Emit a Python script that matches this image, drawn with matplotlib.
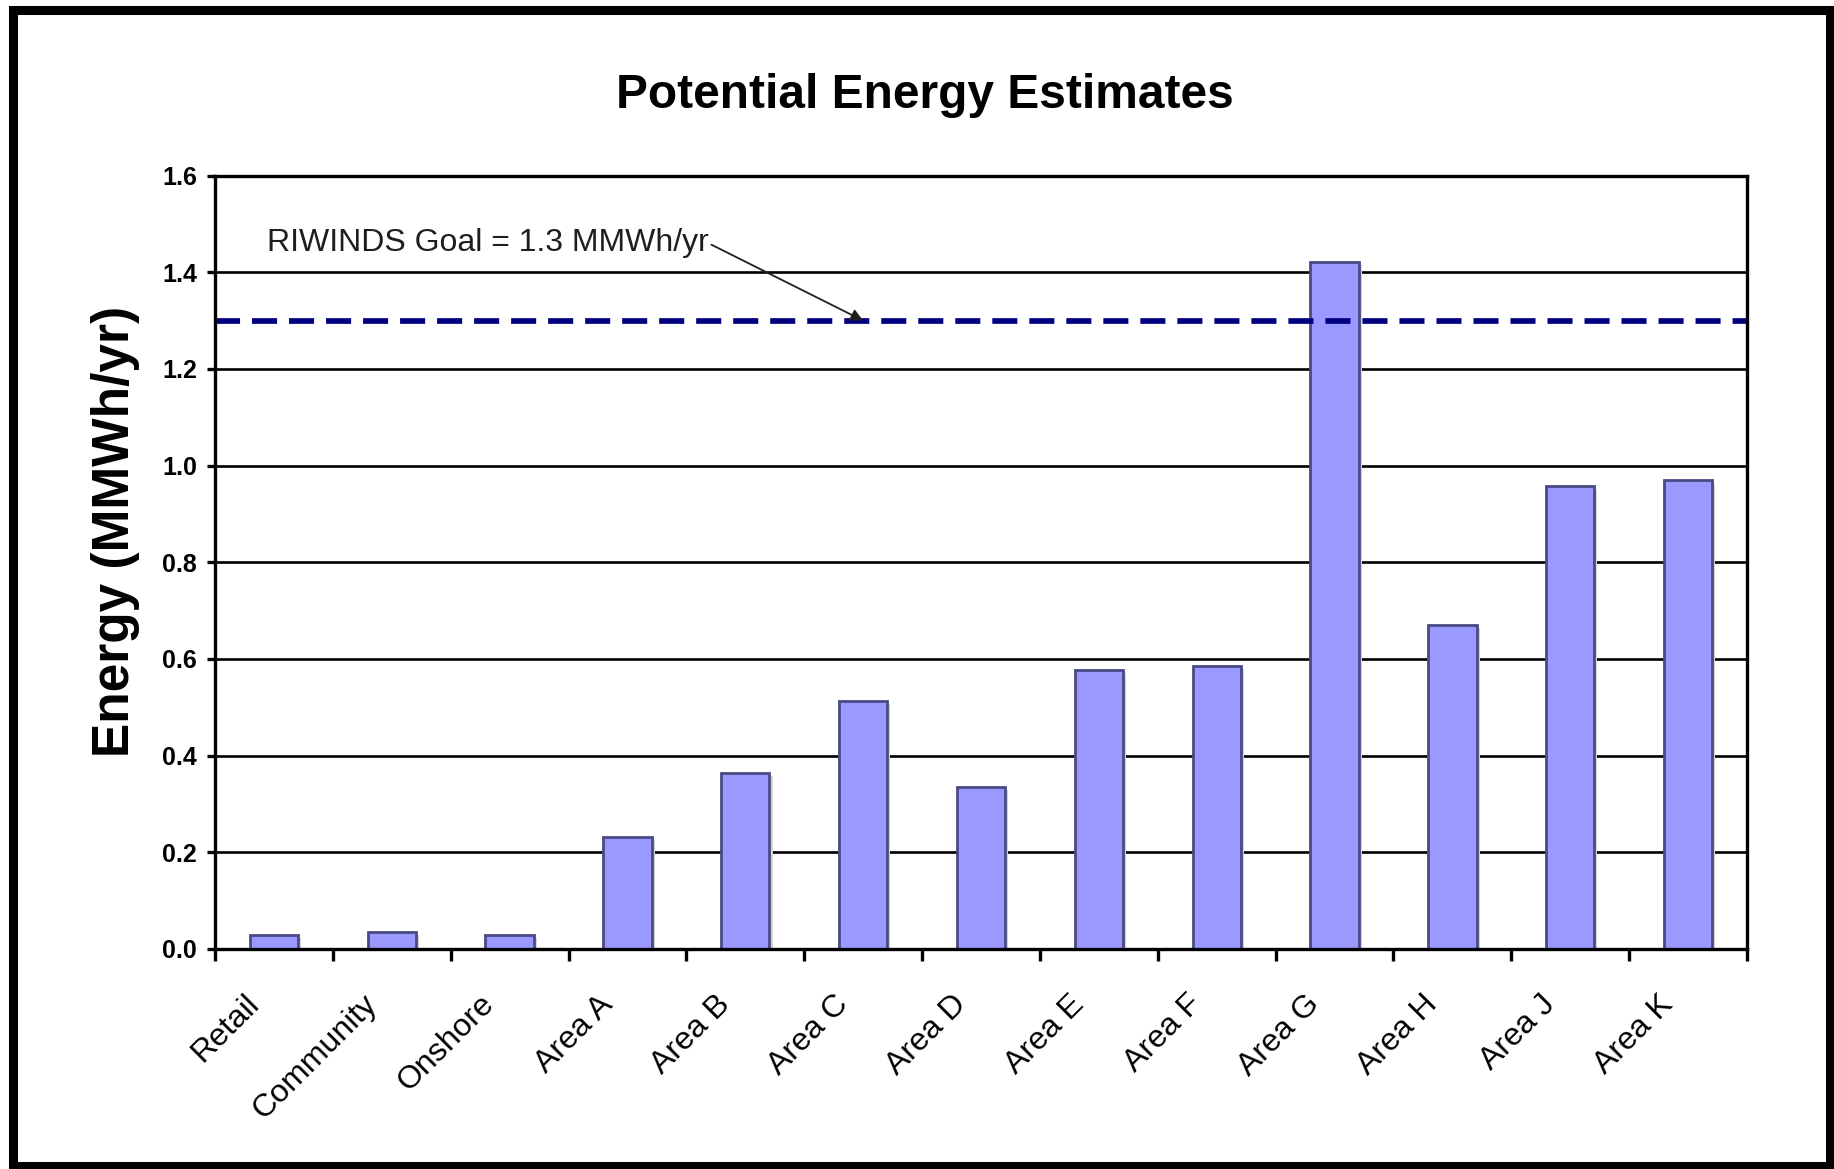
import numpy as np
import matplotlib
matplotlib.use("Agg")
import matplotlib.pyplot as plt
import matplotlib.patheffects as pe
from matplotlib.patches import Rectangle
from matplotlib.transforms import ScaledTranslation

# Data
categories = ["Retail", "Community", "Onshore", "Area A", "Area B", "Area C",
              "Area D", "Area E", "Area F", "Area G", "Area H", "Area J", "Area K"]
energy = [0.029, 0.035, 0.029, 0.232, 0.364, 0.513,
          0.335, 0.577, 0.585, 1.421, 0.670, 0.958, 0.970]
goal = 1.3
goal_arrow_category = "Area C"
y_ticks = [0.0, 0.2, 0.4, 0.6, 0.8, 1.0, 1.2, 1.4, 1.6]

plt.rcParams["font.family"] = ["Liberation Sans", "DejaVu Sans"]

W, H = 1834, 1169
fig = plt.figure(figsize=(W / 100, H / 100), dpi=100)
fig.patch.set_facecolor("white")

ax = fig.add_axes([215 / W, (H - 949) / H, (1747 - 215) / W, (949 - 175.6) / H])

x = np.arange(len(categories))

# Horizontal gridlines behind the bars
for yv in y_ticks:
    ax.axhline(yv, color="black", lw=1.9, zorder=1)

bars = ax.bar(x, energy, width=0.41, color="#9999ff", edgecolor="#4a4a84",
              linewidth=2.0, zorder=2)
for b in bars:
    b.set_path_effects([pe.SimplePatchShadow(offset=(2.2, -2.2), shadow_rgbFace="#d4d4d4", alpha=1.0),
                        pe.Normal()])

# Goal line
ax.axhline(goal, color="#000080", lw=4.1, dashes=(4.4, 2.1), zorder=3)

arrow_x = categories.index(goal_arrow_category)
ax.annotate(f"RIWINDS Goal = {goal:.1f} MMWh/yr",
            xy=(arrow_x, goal), xytext=(-0.06, 1.46),
            textcoords="data", ha="left", va="center",
            fontsize=23, color="#1e1e1e",
            arrowprops=dict(arrowstyle="-|>", color="#1e1e1e", lw=1.3,
                            mutation_scale=18, shrinkA=0, shrinkB=0,
                            relpos=(1.0, 0.5)),
            zorder=4)

ax.set_xlim(-0.5, len(categories) - 0.5)
ax.set_ylim(0, 1.6)

# Ticks: boundaries get tick marks, centres get labels
ax.set_xticks(np.arange(len(categories) + 1) - 0.5)
ax.set_xticklabels([])
ax.set_xticks(x, minor=True)
ax.set_xticklabels(categories, minor=True, rotation=45, ha="right", va="top",
                   fontsize=23)
ax.tick_params(axis="x", which="major", direction="out", length=8.5, width=2.4, color="black")
ax.tick_params(axis="x", which="minor", length=0, pad=29)
shift = ScaledTranslation(-9 / 100, 0, fig.dpi_scale_trans)
for lbl in ax.get_xticklabels(minor=True):
    lbl.set_transform(lbl.get_transform() + shift)

ax.set_yticks(y_ticks)
ax.set_yticklabels([f"{v:.1f}" for v in y_ticks], fontsize=18, fontweight="bold")
ax.tick_params(axis="y", direction="out", length=5.8, width=2.4, color="black", pad=7)

for s in ax.spines.values():
    s.set_linewidth(2.4)
    s.set_color("black")
    s.set_zorder(5)

ax.set_ylabel("Energy (MMWh/yr)", fontsize=37, fontweight="bold")
ax.yaxis.set_label_coords(-0.049, 0.54)

fig.text(925 / W, (H - 108) / H, "Potential Energy Estimates", ha="center",
         va="baseline", fontsize=34.5, fontweight="bold", color="black")

# Outer frame
fig.patches.append(Rectangle((12.5 / W, 3 / H), (1830 - 12.5) / W, (1166 - 10) / H,
                             transform=fig.transFigure, fill=False,
                             edgecolor="black", linewidth=6.5))

fig.savefig("out.png", dpi=100, facecolor="white")
